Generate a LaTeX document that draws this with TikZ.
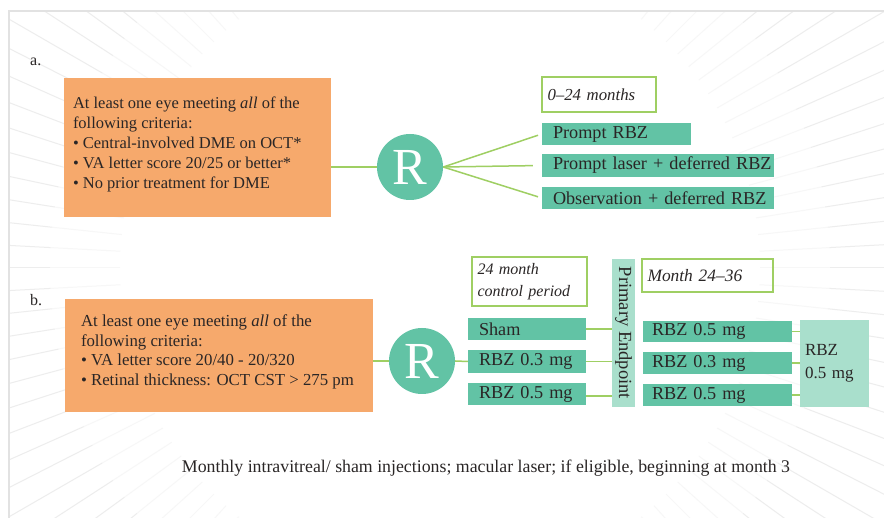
\documentclass[tikz,border=0pt]{standalone}
\usepackage{fontspec}
\setmainfont{Liberation Serif}
\definecolor{orangebox}{HTML}{F6A96C}
\definecolor{teal1}{HTML}{62C3A5}
\definecolor{teal2}{HTML}{A9DFCC}
\definecolor{greenln}{HTML}{9FCF63}
\definecolor{txt}{HTML}{2A2626}
\definecolor{framegr}{HTML}{E2E2E2}
\newcommand{\padA}{\hspace*{11pt}}
\newcommand{\padB}{\hspace*{9pt}}
\begin{document}
\begin{tikzpicture}[x=1pt,y=-1pt,
  crittext/.style={font=\rmfamily\fontsize{16.5}{20}\selectfont, text=txt, align=left, anchor=north west, inner sep=0pt},
  critbox/.style={fill=orangebox, inner sep=0pt},
  armbox/.style={font=\rmfamily\fontsize{18.2}{20}\selectfont, text=txt, fill=teal1, inner sep=0pt, minimum width=#1, text width=#1, align=left, anchor=center},
  lightbox/.style={text=txt, fill=teal2, inner sep=0pt, anchor=center},
  periodbox/.style={font=\fontsize{16.8}{22}\selectfont\itshape, text=txt, draw=greenln, line width=1.4pt, inner sep=0pt, align=left},
  rcirc/.style={circle, fill=teal1, minimum size=66pt, inner sep=0pt, text=white, font=\fontsize{52}{52}\selectfont},
  conn/.style={draw=greenln, line width=1.5pt},
  panellbl/.style={font=\rmfamily\fontsize{16}{20}\selectfont, text=txt, anchor=west, inner sep=0pt}
]
\useasboundingbox (0,0) rectangle (884,518);
% background rays
\begin{scope}
\clip (10,11) rectangle (884,518);
\fill[white] (10,11) rectangle (884,518);
\foreach \a in {0,3,...,357}{
  \draw[black!3, line width=1pt] (440,268) ++(\a:320) -- ++(\a:70);
  \draw[black!7, line width=1pt] (440,268) ++(\a:390) -- ++(\a:600);
}
\end{scope}
\draw[framegr, line width=2.5pt] (884,11) -- (9,11) -- (9,518);

% panel a
\node[panellbl] (la) at (30,62) {a.};
\node[critbox, minimum width=267pt, minimum height=139pt,
  label={[crittext, xshift=9pt, yshift=-19pt]north west:{At least one eye meeting \textit{all} of the\\following criteria:\\• Central-involved DME on OCT*\\• VA letter score 20/25 or better*\\• No prior treatment for DME}}] (critA) at (197.5,147.5) {};
\node[rcirc] (RA) at (410,167) {R};
\node[periodbox, minimum width=114pt, minimum height=35pt, text width=103pt] (pA) at (599,94.5) {0–24 months};
\node[armbox=149pt, minimum height=22pt] (a1) at (616.5,134) {\padA Prompt RBZ};
\node[armbox=232pt, minimum height=23pt] (a2) at (658,165.5) {\padA Prompt laser + deferred RBZ};
\node[armbox=232pt, minimum height=22pt] (a3) at (658,198) {\padA Observation + deferred RBZ};
\draw[conn] (critA.east |- RA) -- (RA.west);
\draw[conn, shorten >=4pt] (RA.east) -- (a1.west);
\draw[conn, shorten >=9pt] (RA.east) -- (a2.west);
\draw[conn, shorten >=4pt] (RA.east) -- (a3.west);

% panel b
\node[panellbl] (lb) at (30,300) {b.};
\node[critbox, minimum width=308pt, minimum height=113pt,
  label={[crittext, font=\rmfamily\fontsize{16.8}{19.5}\selectfont, xshift=16pt, yshift=-16pt]north west:{At least one eye meeting \textit{all} of the\\following criteria:\\• VA letter score 20/40 - 20/320\\• Retinal thickness: OCT CST > 275 pm}}] (critB) at (219,355.5) {};
\node[rcirc] (RB) at (422,361) {R};
\node[periodbox, font=\fontsize{16}{22}\selectfont\itshape, minimum width=115pt, minimum height=49pt, text width=104pt] (pB1) at (529.5,281.5) {24 month\\control period};
\node[armbox=118pt, minimum height=22pt] (sham) at (527,329) {\padA Sham};
\node[armbox=118pt, minimum height=23pt] (b03) at (527,361.5) {\padA RBZ 0.3 mg};
\node[armbox=118pt, minimum height=22pt] (b05) at (527,394) {\padA RBZ 0.5 mg};
\node[lightbox, minimum width=23pt, minimum height=148pt, font=\fontsize{18.5}{20}\selectfont] (pe) at (623.5,333) {\rotatebox{-90}{Primary Endpoint}};
\node[periodbox, font=\fontsize{17.4}{22}\selectfont\itshape, minimum width=131pt, minimum height=33pt, text width=120pt] (pB2) at (707.5,275.5) {Month 24–36};
\node[armbox=149pt, minimum height=21pt] (r1) at (717.5,331.5) {\padB RBZ 0.5 mg};
\node[armbox=149pt, minimum height=22pt] (r2) at (717.5,363) {\padB RBZ 0.3 mg};
\node[armbox=149pt, minimum height=22pt] (r3) at (717.5,395) {\padB RBZ 0.5 mg};
\node[lightbox, font=\fontsize{17}{23}\selectfont, minimum width=69pt, minimum height=87pt, text width=59pt, align=left] (big) at (834.5,363.5) {RBZ\\0.5 mg};
\draw[conn] (critB.east |- RB) -- (RB.west);
\draw[conn] (RB.east) -- (b03.west);
\draw[conn] (sham.east) -- (sham.east -| pe.west);
\draw[conn] (b03.east) -- (b03.east -| pe.west);
\draw[conn] ([yshift=-2pt]b05.east) -- ([yshift=-2pt]b05.east -| pe.west);
\draw[conn] (r1.east) -- (r1.east -| big.west);
\draw[conn] (r2.east) -- (r2.east -| big.west);
\draw[conn] (r3.east) -- (r3.east -| big.west);

\node[font=\fontsize{17.8}{20}\selectfont, text=txt, inner sep=0pt] (foot) at (486,468) {Monthly intravitreal/ sham injections; macular laser; if eligible, beginning at month 3};
\end{tikzpicture}
\end{document}
